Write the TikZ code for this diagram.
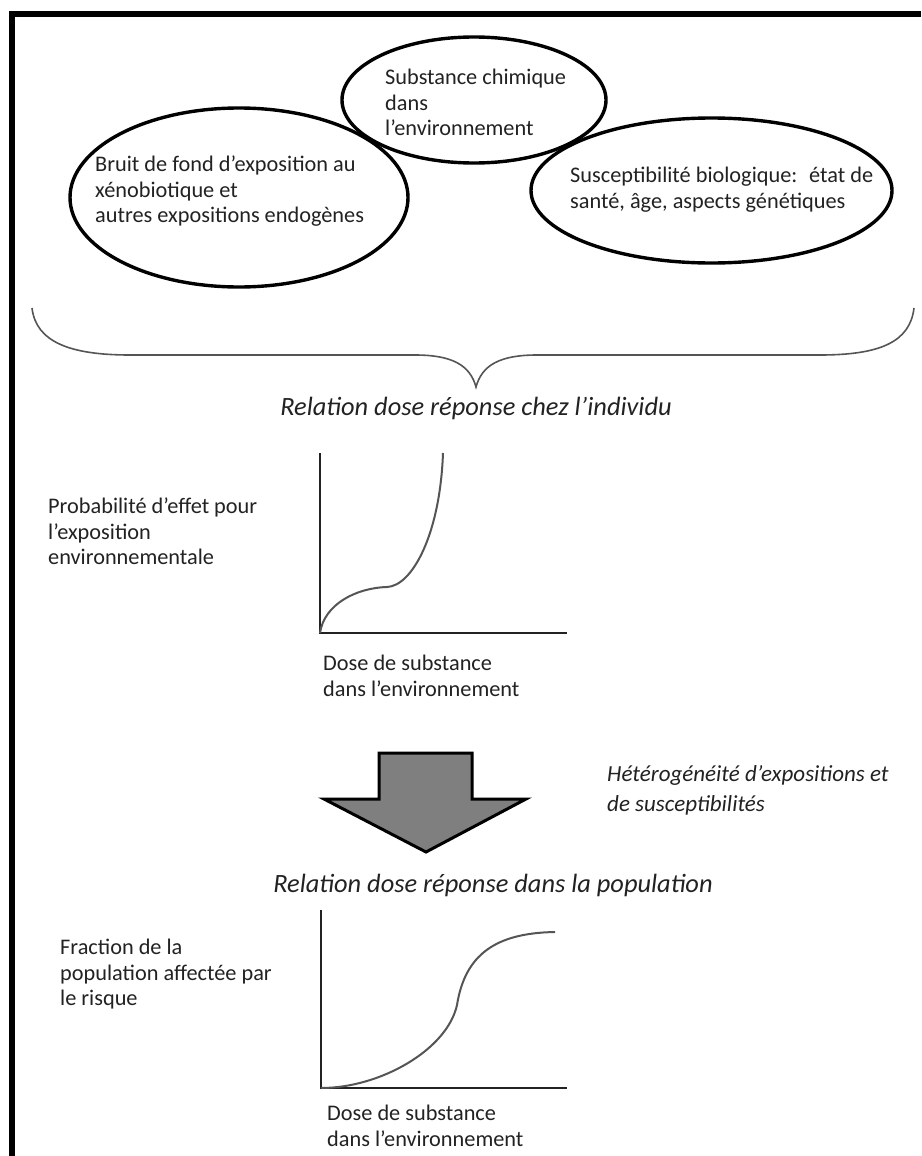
\documentclass[tikz,border=0pt]{standalone}
\usepackage{fontspec}
\setmainfont{Carlito}
\usetikzlibrary{shapes.geometric}
\definecolor{ink}{HTML}{222222}
\definecolor{curvegray}{HTML}{555555}
\definecolor{arrowfill}{HTML}{7F7F7F}
\tikzset{
  bubble/.style={ellipse, draw=black, line width=3.4pt, inner sep=0pt},
  label text/.style={anchor=north west, inner sep=0pt, align=left, text=ink,
    font=\fontsize{22.3}{25.5}\selectfont},
  heading/.style={anchor=center, inner sep=0pt, text=ink,
    font=\itshape\fontsize{26.4}{30}\selectfont},
  side note/.style={anchor=north west, inner sep=0pt, align=left, text=ink,
    font=\itshape\fontsize{23}{30}\selectfont},
  axis line/.style={draw=ink, line width=2.2pt},
  response/.style={draw=curvegray, line width=2pt},
  frame edge/.style={draw=black, line width=6pt},
}
\begin{document}
\begin{tikzpicture}[x=1pt, y=-1pt]
\useasboundingbox (0,0) rectangle (921,1156);
\fill[white] (0,0) rectangle (921,1156);

% frame: top and left edges only
\draw[frame edge] (12,14.5) -- (921,14.5);
\draw[frame edge] (12,11.5) -- (12,1156);

% the three influences
\node[bubble, minimum width=338pt, minimum height=179pt] (bg) at (239,197.5) {};
\node[bubble, minimum width=264pt, minimum height=126pt] (chem) at (474,100) {};
\node[bubble, minimum width=361pt, minimum height=145pt] (susc) at (711.5,190.5) {};

\node[label text] (bgtxt) at (95,156) {Bruit de fond d’exposition au\\xénobiotique et\\autres expositions endogènes};
\node[label text] (chemtxt) at (385,69) {Substance chimique\\dans\\l’environnement};
\node[label text] (susctxt) at (570,167) {Susceptibilité biologique:~ état de\\santé, âge, aspects génétiques};

% brace gathering the influences
\coordinate (bl) at (32,308);
\coordinate (br) at (914,308);
\coordinate (tip) at (476,387);
\draw[draw=curvegray, line width=1.6pt]
  (bl) .. controls (36,342) and (70,355) .. (130,355)
  -- (415,355) .. controls (452,355) and (470,365) .. (tip)
  .. controls (482,365) and (500,355) .. (537,355)
  -- (820,355) .. controls (880,355) and (910,342) .. (br);

\node[heading] (indiv) at (476,408) {Relation dose réponse chez l’individu};

% individual dose-response graph
\coordinate (o1) at (320,633);
\coordinate (y1) at (320,453);
\coordinate (x1) at (567,633);
\draw[axis line] (y1) -- (o1) -- (x1);
\draw[response] (o1) .. controls (324,605) and (355,588) .. (387,587)
  .. controls (412,586) and (440,535) .. (443,453);
\node[label text] (p1) at (48,498) {Probabilité d’effet pour\\l’exposition\\environnementale};
\node[label text] (d1) at (323,655) {Dose de substance\\dans l’environnement};

% block arrow
\coordinate (ar) at (426,852);
\draw[fill=arrowfill, draw=black, line width=3pt, line join=miter]
  (379,753) -- (472,753) -- (472,799) -- (526,799) -- (ar)
  -- (324,799) -- (379,799) -- cycle;
\node[side note] (het) at (607,765) {Hétérogénéité d’expositions et\\de susceptibilités};

\node[heading] (pop) at (493,885) {Relation dose réponse dans la population};

% population dose-response graph
\coordinate (o2) at (321,1088);
\coordinate (y2) at (321,910);
\coordinate (x2) at (567,1088);
\draw[axis line] (y2) -- (o2) -- (x2);
\draw[response] (o2) .. controls (380,1088) and (447,1050) .. (457,1005)
  .. controls (465,955) and (495,933) .. (555,932);
\node[label text] (p2) at (60,939) {Fraction de la\\population affectée par\\le risque};
\node[label text] (d2) at (327,1105) {Dose de substance\\dans l’environnement};
\end{tikzpicture}
\end{document}
